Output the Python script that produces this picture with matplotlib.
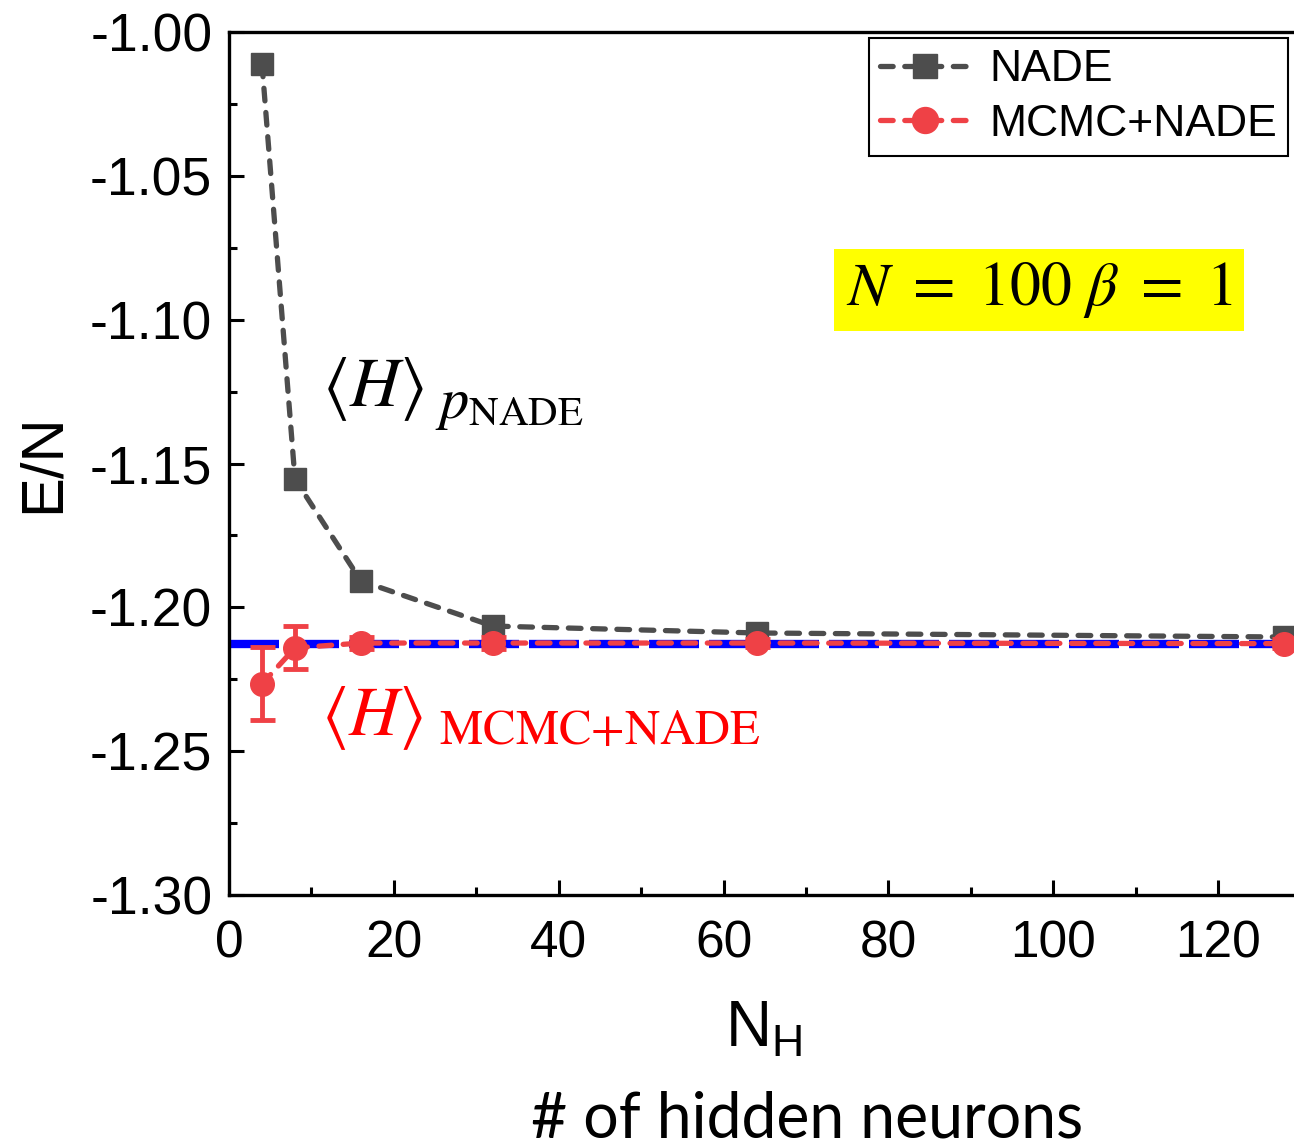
import matplotlib.pyplot as plt
import numpy as np

# values
nh = [4, 8, 16, 32, 64, 128]
nade = [-1.0111, -1.1554, -1.1908, -1.2065, -1.2089, -1.2103]
mcmc = [-1.2266, -1.2141, -1.2124, -1.2124, -1.2124, -1.2126]
mcmc_err = [0.0127, 0.0075, 0.0020, 0.0020, 0.0015, 0.0015]
exact = -1.2127

plt.rcParams['font.family'] = ['Liberation Sans', 'DejaVu Sans']
plt.rcParams['mathtext.fontset'] = 'custom'
plt.rcParams['mathtext.rm'] = 'Liberation Sans'

gray = '#4d4d4d'
red = '#ef4146'

fig = plt.figure(figsize=(12.94, 11.48), dpi=100)
ax = fig.add_axes([0.177, 0.2204, 0.823, 0.7516])

ax.axhline(exact, color='#0000ff', lw=6, ls=(0, (6, 1.2)), zorder=1)

ax.plot(nh, nade, color=gray, lw=3.8, ls=(0, (2.4, 2.2)), dash_capstyle='round',
        marker='s', ms=16, label='NADE', zorder=3)
ax.errorbar(nh, mcmc, yerr=mcmc_err, fmt='none', ecolor=red, elinewidth=3.5,
            capsize=9, capthick=3.5, zorder=4)
ax.plot(nh, mcmc, color=red, lw=3.8, ls=(0, (2.4, 2.2)), dash_capstyle='round',
        marker='o', ms=17, label='MCMC+NADE', zorder=5)

ax.set_xlim(0, 129.2)
ax.set_ylim(-1.30, -1.00)
ax.set_xticks([0, 20, 40, 60, 80, 100, 120])
ax.set_xticks(np.arange(10, 130, 20), minor=True)
ax.set_yticks([-1.30, -1.25, -1.20, -1.15, -1.10, -1.05, -1.00])
ax.set_yticks(np.arange(-1.275, -1.0, 0.05), minor=True)
ax.set_yticklabels(['-1.30', '-1.25', '-1.20', '-1.15', '-1.10', '-1.05', '-1.00'])
ax.tick_params(which='both', direction='in', width=2.2)
ax.tick_params(axis='x', labelsize=37, pad=18)
ax.tick_params(axis='y', labelsize=38.5, pad=12)
ax.tick_params(which='major', length=11)
ax.tick_params(which='minor', length=6)
for s in ['left', 'bottom', 'top']:
    ax.spines[s].set_linewidth(2.4)
ax.spines['right'].set_visible(False)

ax.set_ylabel('E/N', fontsize=43, labelpad=14)

leg = ax.legend(loc='upper right', bbox_to_anchor=(0.9944, 0.993), fontsize=32,
                numpoints=1, handlelength=2.0, handletextpad=0.45, borderpad=0.25,
                labelspacing=0.3, borderaxespad=0, fancybox=False, framealpha=1,
                edgecolor='black', markerscale=1.1)
leg.get_frame().set_linewidth(1.5)

# annotations
ax.text(11.3, -1.130, r'$\langle H\rangle$', fontsize=50,
        math_fontfamily='stix', color='black')
ax.text(25.0, -1.1342, r'$p_{\mathrm{NADE}}$', fontsize=42,
        math_fontfamily='stix', color='black')
ax.text(11.1, -1.2445, r'$\langle H\rangle_{\ \mathrm{MCMC{+}NADE}}$', fontsize=50,
        math_fontfamily='stix', color='red')
ax.text(74.8, -1.0949, r'$N\ =\ 100\ \beta\ =\ 1$', fontsize=44.5,
        math_fontfamily='stix', color='black',
        bbox=dict(facecolor='#ffff00', edgecolor='none', pad=8))

fig.text(0.590, 0.088, r'N$_\mathrm{H}$', fontsize=46, ha='center')
fig.text(0.624, 0.0, '# of hidden neurons', fontsize=45, ha='center',
         va='bottom', family=['Lato', 'DejaVu Sans'])

fig.savefig('out.png', dpi=100)
